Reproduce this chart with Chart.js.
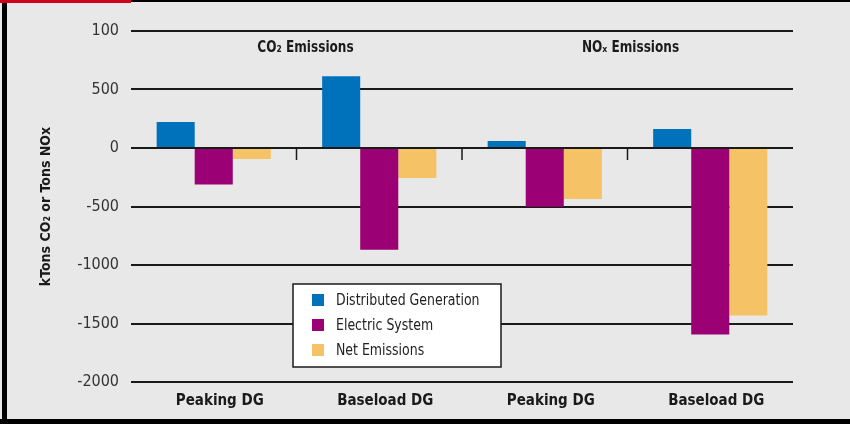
<!DOCTYPE html>
<html>
<head>
<meta charset="utf-8">
<title>DG Emissions</title>
<script src="https://cdn.jsdelivr.net/npm/chart.js@4/dist/chart.umd.min.js"></script>
<style>
    html, body { margin: 0; padding: 0; background: #e8e8e8; }
    #wrap { width: 850px; height: 424px; }
</style>
</head>
<body>
<div id="wrap"><canvas id="barChart" width="850" height="424"></canvas></div>

<script>
// Chart data
const categories = ['Peaking DG', 'Baseload DG', 'Peaking DG', 'Baseload DG'];
const sectionTitles = ['CO\u2082 Emissions', 'NO\u2093 Emissions'];
const seriesNames = ['Distributed Generation', 'Electric System', 'Net Emissions'];
const distributedGeneration = [222, 614, 60, 162];
const electricSystem = [-313, -870, -503, -1593];
const netEmissions = [-94, -256, -435, -1431];
const yTickValues = [1000, 500, 0, -500, -1000, -1500, -2000];
const yTickLabels = ['100', '500', '0', '-500', '-1000', '-1500', '-2000'];

const FONT = "'DejaVu Sans Condensed', 'Liberation Sans', sans-serif";
const INK = '#1a1a1a';

// draw text squeezed horizontally to mimic a condensed face
function drawNarrow(ctx, text, x, y, sx) {
    ctx.save();
    ctx.translate(x, y);
    ctx.scale(sx, 1);
    ctx.fillText(text, 0, 0);
    ctx.restore();
}

// Background, frame, section titles, separators and the boxed legend
const decorPlugin = {
    id: 'decor',
    beforeDraw: function (chart) {
        const ctx = chart.ctx;
        ctx.save();
        ctx.fillStyle = '#e8e8e8';
        ctx.fillRect(0, 0, chart.width, chart.height);
        ctx.restore();
    },
    afterDatasetsDraw: function (chart) {
        const ctx = chart.ctx;
        const area = chart.chartArea;
        const x = chart.scales.x;
        const y = chart.scales.y;
        const zero = y.getPixelForValue(0);

        ctx.save();

        // short separators under the zero line between categories
        ctx.strokeStyle = INK;
        ctx.lineWidth = 1.5;
        for (let i = 1; i < categories.length; i++) {
            const px = (x.getPixelForValue(i - 1) + x.getPixelForValue(i)) / 2;
            ctx.beginPath();
            ctx.moveTo(px, zero);
            ctx.lineTo(px, zero + 12);
            ctx.stroke();
        }

        // section titles, each roughly centred over two categories
        ctx.fillStyle = INK;
        ctx.font = 'bold 16px ' + FONT;
        ctx.textAlign = 'center';
        ctx.textBaseline = 'middle';
        const nudge = [9, 3];
        sectionTitles.forEach(function (t, i) {
            const cx = (x.getPixelForValue(i * 2) + x.getPixelForValue(i * 2 + 1)) / 2;
            drawNarrow(ctx, t, cx + nudge[i], area.top + 17, 0.84);
        });

        // legend box
        const lx = 293, ly = 284, lw = 208, lh = 83;
        ctx.fillStyle = '#ffffff';
        ctx.fillRect(lx, ly, lw, lh);
        ctx.strokeStyle = INK;
        ctx.lineWidth = 1.5;
        ctx.strokeRect(lx, ly, lw, lh);
        ctx.font = '16px ' + FONT;
        ctx.textAlign = 'left';
        chart.data.datasets.forEach(function (ds, i) {
            const cy = ly + 16 + i * 25;
            ctx.fillStyle = ds.backgroundColor;
            ctx.fillRect(lx + 19, cy - 6, 12, 12);
            ctx.fillStyle = '#222';
            drawNarrow(ctx, ds.label, lx + 43, cy + 1, 0.87);
        });

        ctx.restore();
    },
    afterDraw: function (chart) {
        const ctx = chart.ctx;
        ctx.save();
        ctx.fillStyle = '#000';
        ctx.fillRect(0, 0, chart.width, 2);      // top
        ctx.fillRect(2, 0, 5, chart.height);     // left
        ctx.fillRect(0, chart.height - 5, chart.width, 5); // bottom
        ctx.fillStyle = '#d0021b';
        ctx.fillRect(0, 0, 131, 3);
        ctx.restore();
    }
};

document.addEventListener('DOMContentLoaded', function () {
    const barCtx = document.getElementById('barChart').getContext('2d');

    new Chart(barCtx, {
        type: 'bar',
        data: {
            labels: categories,
            datasets: [
                { label: seriesNames[0], data: distributedGeneration, backgroundColor: '#0072bc' },
                { label: seriesNames[1], data: electricSystem, backgroundColor: '#9c0075' },
                { label: seriesNames[2], data: netEmissions, backgroundColor: '#f5c266' }
            ]
        },
        options: {
            responsive: false,
            animation: false,
            devicePixelRatio: 1,
            layout: { padding: { left: 6, right: 57, top: 31, bottom: 6 } },
            datasets: {
                bar: { barPercentage: 1.0, categoryPercentage: 0.69, borderWidth: 0 }
            },
            plugins: {
                legend: { display: false },
                tooltip: { enabled: false }
            },
            scales: {
                x: {
                    grid: { display: false, drawTicks: false },
                    border: { display: false },
                    ticks: {
                        color: INK,
                        padding: 10,
                        labelOffset: 6,
                        font: { family: FONT, size: 15, weight: 'bold' }
                    },
                    afterFit: function (scale) { scale.height = 36; }
                },
                y: {
                    min: -2000,
                    max: 1000,
                    afterBuildTicks: function (scale) {
                        scale.ticks = yTickValues.map(function (v) { return { value: v }; });
                    },
                    ticks: {
                        color: '#333',
                        padding: 12,
                        font: { family: FONT, size: 16 },
                        callback: function (value) {
                            const i = yTickValues.indexOf(value);
                            return i >= 0 ? yTickLabels[i] : '';
                        }
                    },
                    grid: { color: INK, lineWidth: 2, drawTicks: false },
                    border: { display: false },
                    title: {
                        display: true,
                        text: 'kTons CO\u2082 or Tons NOx',
                        color: INK,
                        padding: { top: 32, bottom: 0 },
                        font: { family: FONT, size: 14, weight: 'bold' }
                    },
                    afterFit: function (scale) { scale.width = 125; }
                }
            }
        },
        plugins: [decorPlugin]
    });
});
</script>

</body>
</html>
